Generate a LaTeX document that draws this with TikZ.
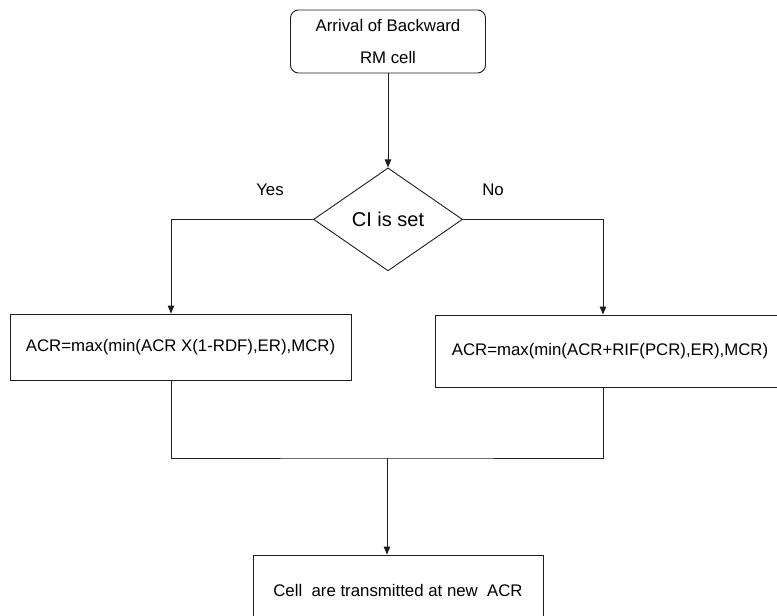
\documentclass[tikz,border=0pt]{standalone}
\usepackage{fontspec}
\setmainfont{Liberation Sans}
\usetikzlibrary{arrows.meta, shapes.geometric, positioning, calc}
\definecolor{scanInk}{RGB}{30, 30, 30}

\begin{document}
\begin{tikzpicture}[
      x=1pt, y=-1pt,
      node distance = 94pt,
      line width=0.9pt, draw=scanInk,
      startbox/.style = {draw=scanInk, rounded corners=8pt,
                         minimum width=195pt, minimum height=63pt,
                         align=center, inner sep=0pt,
                         font=\fontsize{16.8}{32}\selectfont},
      decision/.style = {draw=scanInk, diamond, inner sep=0pt,
                         minimum width=149pt, minimum height=103pt,
                         font=\fontsize{20}{24}\selectfont},
      procbox/.style  = {draw=scanInk, inner sep=0pt,
                         font=\fontsize{16.8}{20}\selectfont},
      lbl/.style      = {font=\fontsize{16.8}{20}\selectfont, inner sep=0pt},
      arrow/.style    = {-{Triangle[length=8pt, width=6.5pt]}, line width=0.9pt, draw=scanInk},
    ]
    \useasboundingbox (0,0) rectangle (777,616);
    \clip (0,0) rectangle (777,616);
    %% -- Nodos -------------------------------------------------
    \node (arrival) [startbox] at (388,41.5) {Arrival of Backward\\RM cell};
    \node (cis) [decision, below=of arrival] {CI is set};
    \node (yes) [lbl] at (270,190) {Yes};
    \node (no)  [lbl] at (493,190) {No};
    \node (acrdec) [procbox, minimum width=341pt, minimum height=66pt]
          at (180.5,347) {ACR=max(min(ACR X(1-RDF),ER),MCR)};
    \node (acrinc) [procbox, minimum width=350pt, minimum height=72pt]
          at (610,351) {ACR=max(min(ACR+RIF(PCR),ER),MCR)};
    \node (newacr) [procbox, minimum width=290pt, minimum height=70pt]
          at (398,590) {Cell\ \ are transmitted at new\ \ ACR};
    \coordinate (join) at (387,458);
    %% -- Flechas -----------------------------------------------
    \draw[arrow] (arrival) -- (cis);
    \draw[arrow] (cis.west) -| ([xshift=-9.5pt]acrdec.north);
    \draw[arrow] (cis.east) -| ([xshift=-7pt]acrinc.north);
    %% -- Union de ramas ----------------------------------------
    \draw ([xshift=-9.5pt]acrdec.south) |- (join) -| ([xshift=-7pt]acrinc.south);
    \draw[arrow] (join) -- (join |- newacr.north);
  \end{tikzpicture}
\end{document}
